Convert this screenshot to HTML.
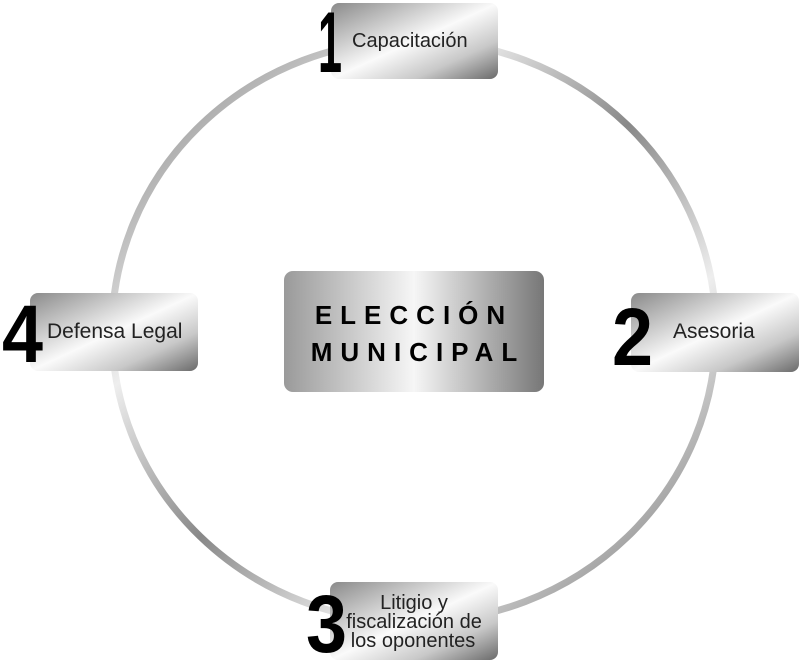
<!DOCTYPE html>
<html><head><meta charset="utf-8"><style>
html,body{margin:0;padding:0;background:#fff;width:800px;height:662px;overflow:hidden}
svg{display:block}
text{font-family:"Liberation Sans",sans-serif}
</style></head><body>
<svg width="800" height="662" viewBox="0 0 800 662" xmlns="http://www.w3.org/2000/svg">
<defs>
<linearGradient id="ring" x1="0" y1="0" x2="1" y2="1">
<stop offset="0" stop-color="#777"/><stop offset="0.3" stop-color="#eee"/><stop offset="0.5" stop-color="#888"/><stop offset="0.7" stop-color="#eee"/><stop offset="1" stop-color="#666"/>
</linearGradient>
<linearGradient id="box" x1="0" y1="0" x2="1" y2="1">
<stop offset="0" stop-color="#8a8a8a"/><stop offset="0.5" stop-color="#fafafa"/><stop offset="0.75" stop-color="#c8c8c8"/><stop offset="1" stop-color="#6a6a6a"/>
</linearGradient>
<linearGradient id="cbox" x1="0" y1="0" x2="1" y2="0">
<stop offset="0" stop-color="#9a9a9a"/><stop offset="0.5" stop-color="#f6f6f6"/><stop offset="1" stop-color="#777"/>
</linearGradient>
</defs>
<ellipse cx="414" cy="331" rx="302" ry="291" fill="none" stroke="url(#ring)" stroke-width="7"/>
<rect x="331" y="3" width="167" height="76" rx="8" fill="url(#box)"/>
<rect x="631" y="293" width="168" height="79" rx="8" fill="url(#box)"/>
<rect x="30" y="293" width="168" height="78" rx="8" fill="url(#box)"/>
<rect x="330" y="582" width="168" height="78" rx="8" fill="url(#box)"/>
<rect x="284" y="271" width="260" height="121" rx="9" fill="url(#cbox)"/>
<text x="414" y="324" text-anchor="middle" font-size="26" font-weight="bold" letter-spacing="8">ELECCIÓN</text>
<text x="418" y="361" text-anchor="middle" font-size="26" font-weight="bold" letter-spacing="8">MUNICIPAL</text>
<text x="318" y="72" font-size="86" font-weight="bold" textLength="24" lengthAdjust="spacingAndGlyphs">1</text>
<text x="352" y="47" font-size="20" fill="#222">Capacitación</text>
<text x="612" y="365" font-size="82" font-weight="bold" textLength="41" lengthAdjust="spacingAndGlyphs">2</text>
<text x="673" y="338" font-size="21" fill="#222">Asesoria</text>
<text x="2" y="362" font-size="82" font-weight="bold" textLength="41" lengthAdjust="spacingAndGlyphs">4</text>
<text x="47" y="338" font-size="21" fill="#222">Defensa Legal</text>
<text x="306" y="652" font-size="82" font-weight="bold" textLength="41" lengthAdjust="spacingAndGlyphs">3</text>
<text x="414" y="609" text-anchor="middle" font-size="20" fill="#222">Litigio y</text>
<text x="414" y="628" text-anchor="middle" font-size="20" fill="#222">fiscalización de</text>
<text x="413" y="647" text-anchor="middle" font-size="20" fill="#222">los oponentes</text>
</svg>
</body></html>
